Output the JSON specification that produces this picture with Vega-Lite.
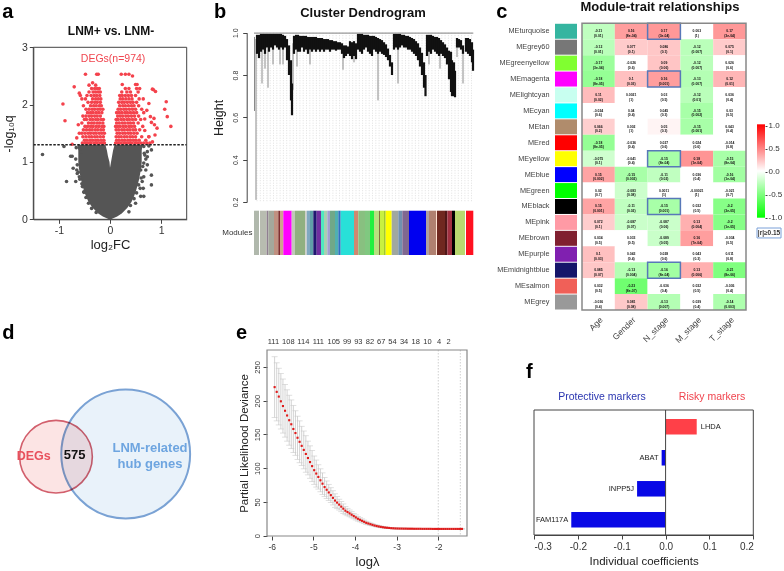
{
"$schema":"https://vega.github.io/schema/vega-lite/v6.json",
"width":784,"height":571,"padding":0,
"autosize":{"type":"fit","contains":"padding"},
"background":"white",
"config":{"view":{"stroke":null},"font":"Liberation Sans","axis":{"minExtent":0,"labelFont":"Liberation Sans","titleFont":"Liberation Sans","grid":false,"titleFontWeight":"normal","labelColor":"#333","titleColor":"#222","domainColor":"#444","tickColor":"#444"}},
"datasets":{
"volcano":[
{"x":-1.32,"y":1.13},{"x":-0.9,"y":1.27},{"x":-0.85,"y":0.66},{"x":-0.77,"y":1.1},{"x":-0.74,"y":1.1},{"x":-0.72,"y":0.89},{"x":-0.65,"y":0.86},{"x":-0.57,"y":1.18},{"x":-0.67,"y":0.66},{"x":-0.6,"y":0.74},{"x":-0.54,"y":0.57},{"x":-0.64,"y":0.8},{"x":-0.51,"y":0.48},{"x":-0.66,"y":1.25},{"x":-0.67,"y":1.05},{"x":-0.64,"y":0.95},{"x":-0.62,"y":0.82},{"x":-0.59,"y":0.7},{"x":-0.55,"y":0.62},{"x":-0.51,"y":0.47},{"x":-0.47,"y":0.38},{"x":-0.42,"y":0.28},{"x":-0.36,"y":0.19},{"x":-0.27,"y":0.12},
{"x":0.81,"y":0.77},{"x":0.81,"y":0.6},{"x":0.66,"y":0.4},{"x":0.6,"y":0.4},{"x":0.65,"y":0.54},{"x":0.59,"y":0.54},{"x":0.63,"y":0.66},{"x":0.73,"y":0.95},{"x":0.66,"y":0.98},{"x":0.7,"y":0.86},{"x":0.6,"y":0.86},{"x":0.73,"y":1.09},{"x":0.81,"y":1.21},{"x":0.66,"y":1.27},{"x":0.76,"y":1.28},{"x":0.73,"y":1.18},{"x":0.67,"y":1.15},{"x":0.66,"y":0.74},{"x":0.5,"y":0.28},{"x":0.37,"y":0.13},{"x":0.68,"y":1.12},{"x":0.7,"y":1.05},{"x":0.64,"y":0.92},{"x":0.61,"y":0.72},{"x":0.56,"y":0.6},{"x":0.52,"y":0.46},{"x":0.47,"y":0.36},{"x":0.4,"y":0.24},
{"x":-0.54,"y":1.33},{"x":-0.48,"y":1.33},{"x":-0.42,"y":1.33},{"x":-0.37,"y":1.33},{"x":-0.31,"y":1.33},{"x":-0.26,"y":1.33},{"x":-0.2,"y":1.33},{"x":-0.15,"y":1.33},{"x":-0.11,"y":1.33},
{"x":-0.5,"y":1.38},{"x":-0.45,"y":1.38},{"x":-0.39,"y":1.38},{"x":-0.34,"y":1.38},{"x":-0.28,"y":1.38},{"x":-0.23,"y":1.38},{"x":-0.17,"y":1.38},{"x":-0.12,"y":1.38},
{"x":-0.53,"y":1.44},{"x":-0.47,"y":1.44},{"x":-0.41,"y":1.44},{"x":-0.36,"y":1.44},{"x":-0.3,"y":1.44},{"x":-0.25,"y":1.44},{"x":-0.19,"y":1.44},{"x":-0.13,"y":1.44},
{"x":-0.55,"y":1.5},{"x":-0.49,"y":1.5},{"x":-0.43,"y":1.5},{"x":-0.38,"y":1.5},{"x":-0.32,"y":1.5},{"x":-0.27,"y":1.5},{"x":-0.21,"y":1.5},{"x":-0.16,"y":1.5},{"x":-0.11,"y":1.5},
{"x":-0.52,"y":1.56},{"x":-0.46,"y":1.56},{"x":-0.4,"y":1.56},{"x":-0.35,"y":1.56},{"x":-0.29,"y":1.56},{"x":-0.24,"y":1.56},{"x":-0.18,"y":1.56},{"x":-0.13,"y":1.56},
{"x":-0.49,"y":1.62},{"x":-0.44,"y":1.62},{"x":-0.38,"y":1.62},{"x":-0.33,"y":1.62},{"x":-0.27,"y":1.62},{"x":-0.22,"y":1.62},{"x":-0.16,"y":1.62},{"x":-0.12,"y":1.62},
{"x":-0.55,"y":1.68},{"x":-0.42,"y":1.68},{"x":-0.36,"y":1.68},{"x":-0.31,"y":1.68},{"x":-0.25,"y":1.68},{"x":-0.2,"y":1.68},{"x":-0.14,"y":1.68},
{"x":-0.5,"y":1.74},{"x":-0.46,"y":1.74},{"x":-0.39,"y":1.74},{"x":-0.34,"y":1.74},{"x":-0.28,"y":1.74},{"x":-0.23,"y":1.74},{"x":-0.17,"y":1.74},{"x":-0.13,"y":1.74},
{"x":-0.53,"y":1.8},{"x":-0.47,"y":1.8},{"x":-0.41,"y":1.8},{"x":-0.36,"y":1.8},{"x":-0.3,"y":1.8},{"x":-0.25,"y":1.8},{"x":-0.19,"y":1.8},
{"x":-0.44,"y":1.86},{"x":-0.38,"y":1.86},{"x":-0.33,"y":1.86},{"x":-0.27,"y":1.86},{"x":-0.22,"y":1.86},{"x":-0.16,"y":1.86},
{"x":-0.47,"y":1.92},{"x":-0.41,"y":1.92},{"x":-0.35,"y":1.92},{"x":-0.3,"y":1.92},{"x":-0.24,"y":1.92},{"x":-0.19,"y":1.92},{"x":-0.14,"y":1.92},
{"x":-0.52,"y":1.98},{"x":-0.38,"y":1.98},{"x":-0.32,"y":1.98},{"x":-0.27,"y":1.98},{"x":-0.21,"y":1.98},{"x":-0.17,"y":1.98},
{"x":-0.43,"y":2.04},{"x":-0.36,"y":2.04},{"x":-0.3,"y":2.04},{"x":-0.25,"y":2.04},{"x":-0.19,"y":2.04},
{"x":-0.55,"y":2.1},{"x":-0.48,"y":2.1},{"x":-0.34,"y":2.1},{"x":-0.28,"y":2.1},{"x":-0.23,"y":2.1},{"x":-0.18,"y":2.1},
{"x":-0.58,"y":2.16},{"x":-0.45,"y":2.16},{"x":-0.37,"y":2.16},{"x":-0.31,"y":2.16},{"x":-0.26,"y":2.16},{"x":-0.2,"y":2.16},
{"x":-0.41,"y":2.22},{"x":-0.33,"y":2.22},{"x":-0.28,"y":2.22},{"x":-0.23,"y":2.22},{"x":-0.19,"y":2.22},
{"x":-0.36,"y":2.28},{"x":-0.3,"y":2.28},{"x":-0.25,"y":2.28},{"x":-0.21,"y":2.28},
{"x":-0.41,"y":2.34},{"x":-0.28,"y":2.34},{"x":-0.34,"y":2.38},{"x":-0.48,"y":2.53},{"x":-0.26,"y":2.53},{"x":-0.23,"y":2.53},{"x":-0.7,"y":2.31},{"x":-0.6,"y":2.2},{"x":-0.92,"y":2.01},{"x":-0.88,"y":1.72},{"x":-0.74,"y":1.31},{"x":-0.62,"y":1.65},{"x":-0.6,"y":1.5},{"x":-0.65,"y":1.42},
{"x":0.11,"y":1.33},{"x":0.16,"y":1.33},{"x":0.21,"y":1.33},{"x":0.27,"y":1.33},{"x":0.32,"y":1.33},{"x":0.38,"y":1.33},{"x":0.43,"y":1.33},{"x":0.49,"y":1.33},{"x":0.54,"y":1.33},{"x":0.6,"y":1.33},{"x":0.66,"y":1.33},{"x":0.72,"y":1.33},{"x":0.78,"y":1.33},
{"x":0.13,"y":1.38},{"x":0.18,"y":1.38},{"x":0.24,"y":1.38},{"x":0.29,"y":1.38},{"x":0.35,"y":1.38},{"x":0.4,"y":1.38},{"x":0.46,"y":1.38},{"x":0.51,"y":1.38},{"x":0.57,"y":1.38},{"x":0.7,"y":1.38},
{"x":0.12,"y":1.44},{"x":0.17,"y":1.44},{"x":0.22,"y":1.44},{"x":0.28,"y":1.44},{"x":0.33,"y":1.44},{"x":0.39,"y":1.44},{"x":0.44,"y":1.44},{"x":0.5,"y":1.44},{"x":0.62,"y":1.44},{"x":0.76,"y":1.44},
{"x":0.14,"y":1.5},{"x":0.19,"y":1.5},{"x":0.25,"y":1.5},{"x":0.3,"y":1.5},{"x":0.36,"y":1.5},{"x":0.41,"y":1.5},{"x":0.47,"y":1.5},{"x":0.53,"y":1.5},
{"x":0.12,"y":1.56},{"x":0.17,"y":1.56},{"x":0.23,"y":1.56},{"x":0.28,"y":1.56},{"x":0.34,"y":1.56},{"x":0.39,"y":1.56},{"x":0.45,"y":1.56},{"x":0.5,"y":1.56},{"x":0.58,"y":1.56},
{"x":0.11,"y":1.62},{"x":0.15,"y":1.62},{"x":0.2,"y":1.62},{"x":0.26,"y":1.62},{"x":0.31,"y":1.62},{"x":0.37,"y":1.62},{"x":0.42,"y":1.62},{"x":0.48,"y":1.62},{"x":0.64,"y":1.62},
{"x":0.13,"y":1.68},{"x":0.18,"y":1.68},{"x":0.24,"y":1.68},{"x":0.29,"y":1.68},{"x":0.35,"y":1.68},{"x":0.4,"y":1.68},{"x":0.46,"y":1.68},{"x":0.55,"y":1.68},
{"x":0.12,"y":1.74},{"x":0.16,"y":1.74},{"x":0.22,"y":1.74},{"x":0.27,"y":1.74},{"x":0.33,"y":1.74},{"x":0.38,"y":1.74},{"x":0.44,"y":1.74},{"x":0.5,"y":1.74},{"x":0.6,"y":1.74},
{"x":0.15,"y":1.8},{"x":0.2,"y":1.8},{"x":0.25,"y":1.8},{"x":0.31,"y":1.8},{"x":0.36,"y":1.8},{"x":0.42,"y":1.8},{"x":0.48,"y":1.8},{"x":0.56,"y":1.8},
{"x":0.13,"y":1.86},{"x":0.18,"y":1.86},{"x":0.23,"y":1.86},{"x":0.29,"y":1.86},{"x":0.34,"y":1.86},{"x":0.4,"y":1.86},{"x":0.46,"y":1.86},{"x":0.52,"y":1.86},{"x":0.66,"y":1.86},
{"x":0.16,"y":1.92},{"x":0.21,"y":1.92},{"x":0.27,"y":1.92},{"x":0.32,"y":1.92},{"x":0.38,"y":1.92},{"x":0.44,"y":1.92},{"x":0.5,"y":1.92},{"x":0.62,"y":1.92},
{"x":0.19,"y":1.98},{"x":0.25,"y":1.98},{"x":0.3,"y":1.98},{"x":0.36,"y":1.98},{"x":0.42,"y":1.98},{"x":0.47,"y":1.98},{"x":0.56,"y":1.98},
{"x":0.17,"y":2.04},{"x":0.23,"y":2.04},{"x":0.28,"y":2.04},{"x":0.34,"y":2.04},{"x":0.4,"y":2.04},{"x":0.45,"y":2.04},{"x":0.52,"y":2.04},
{"x":0.2,"y":2.1},{"x":0.25,"y":2.1},{"x":0.31,"y":2.1},{"x":0.37,"y":2.1},{"x":0.43,"y":2.1},{"x":0.57,"y":2.1},
{"x":0.19,"y":2.16},{"x":0.24,"y":2.16},{"x":0.3,"y":2.16},{"x":0.36,"y":2.16},{"x":0.42,"y":2.16},{"x":0.5,"y":2.16},
{"x":0.23,"y":2.22},{"x":0.33,"y":2.22},{"x":0.4,"y":2.22},{"x":0.55,"y":2.22},
{"x":0.3,"y":2.28},{"x":0.37,"y":2.28},{"x":0.52,"y":2.28},{"x":0.58,"y":2.28},
{"x":0.24,"y":2.35},{"x":0.5,"y":2.35},{"x":0.53,"y":2.35},{"x":0.22,"y":2.53},{"x":0.3,"y":2.53},{"x":0.37,"y":2.53},{"x":0.44,"y":2.5},
{"x":1.1,"y":2.05},{"x":1.07,"y":1.92},{"x":1.12,"y":1.79},{"x":1.19,"y":1.62},{"x":0.83,"y":2.27},{"x":0.89,"y":2.23},{"x":0.85,"y":2.26},{"x":0.76,"y":2.02},{"x":0.92,"y":1.59},{"x":0.79,"y":1.79},{"x":0.86,"y":1.76},{"x":0.81,"y":1.69},{"x":0.87,"y":1.65},{"x":0.88,"y":1.47},{"x":0.76,"y":1.44},{"x":0.83,"y":1.35},{"x":0.68,"y":1.55},{"x":0.72,"y":1.9},{"x":0.65,"y":2.1},{"x":0.68,"y":1.75}
],
"funnel":[
{"s":"L","y":0,"a":-0.02,"b":0},{"s":"L","y":0.05,"a":-0.14,"b":0},{"s":"L","y":0.1,"a":-0.23,"b":0},{"s":"L","y":0.2,"a":-0.34,"b":0},{"s":"L","y":0.3,"a":-0.42,"b":0},{"s":"L","y":0.4,"a":-0.47,"b":0},{"s":"L","y":0.5,"a":-0.51,"b":0},{"s":"L","y":0.6,"a":-0.54,"b":0},{"s":"L","y":0.7,"a":-0.57,"b":0},{"s":"L","y":0.8,"a":-0.59,"b":0},{"s":"L","y":0.9,"a":-0.61,"b":0},{"s":"L","y":1.0,"a":-0.62,"b":-0.01},{"s":"L","y":1.1,"a":-0.62,"b":-0.04},{"s":"L","y":1.2,"a":-0.62,"b":-0.06},{"s":"L","y":1.3,"a":-0.64,"b":-0.09},
{"s":"R","y":0,"a":0,"b":0.02},{"s":"R","y":0.05,"a":0,"b":0.14},{"s":"R","y":0.1,"a":0,"b":0.23},{"s":"R","y":0.2,"a":0,"b":0.34},{"s":"R","y":0.3,"a":0,"b":0.42},{"s":"R","y":0.4,"a":0,"b":0.47},{"s":"R","y":0.5,"a":0,"b":0.51},{"s":"R","y":0.6,"a":0,"b":0.54},{"s":"R","y":0.7,"a":0,"b":0.57},{"s":"R","y":0.8,"a":0,"b":0.59},{"s":"R","y":0.9,"a":0,"b":0.61},{"s":"R","y":1.0,"a":0.02,"b":0.62},{"s":"R","y":1.1,"a":0.04,"b":0.62},{"s":"R","y":1.2,"a":0.06,"b":0.62},{"s":"R","y":1.3,"a":0.09,"b":0.64}
],
"dendro":[
{"p":3,"t":0.99,"b":0.9},{"p":5,"t":0.99,"b":0.88},{"p":7,"t":0.995,"b":0.91},{"p":9,"t":0.995,"b":0.92},{"p":11,"t":0.995,"b":0.9},{"p":13,"t":0.995,"b":0.93},{"p":15,"t":0.995,"b":0.91},{"p":17,"t":0.995,"b":0.93},{"p":19,"t":0.995,"b":0.92},{"p":21,"t":0.995,"b":0.94},{"p":23,"t":0.995,"b":0.93},{"p":25,"t":0.995,"b":0.92},{"p":27,"t":0.995,"b":0.93},{"p":29,"t":0.99,"b":0.92},{"p":31,"t":0.985,"b":0.93},{"p":33,"t":0.97,"b":0.87},{"p":35,"t":0.94,"b":0.8},{"p":37,"t":0.87,"b":0.68},{"p":38,"t":0.76,"b":0.61},
{"p":40,"t":0.985,"b":0.9},{"p":42,"t":0.99,"b":0.92},{"p":44,"t":0.99,"b":0.91},{"p":46,"t":0.985,"b":0.91},{"p":48,"t":0.985,"b":0.93},{"p":50,"t":0.985,"b":0.91},{"p":52,"t":0.985,"b":0.92},{"p":54,"t":0.98,"b":0.9},{"p":56,"t":0.98,"b":0.92},{"p":58,"t":0.98,"b":0.91},{"p":60,"t":0.98,"b":0.92},{"p":62,"t":0.98,"b":0.91},{"p":64,"t":0.975,"b":0.92},{"p":66,"t":0.975,"b":0.91},{"p":68,"t":0.975,"b":0.92},{"p":70,"t":0.97,"b":0.91},{"p":72,"t":0.97,"b":0.92},{"p":74,"t":0.97,"b":0.92},{"p":76,"t":0.965,"b":0.91},{"p":78,"t":0.965,"b":0.92},{"p":80,"t":0.96,"b":0.92},{"p":82,"t":0.96,"b":0.915},{"p":84,"t":0.955,"b":0.92},{"p":86,"t":0.955,"b":0.92},{"p":88,"t":0.95,"b":0.9},{"p":90,"t":0.94,"b":0.88},{"p":92,"t":0.94,"b":0.89},{"p":94,"t":0.935,"b":0.9},{"p":96,"t":0.96,"b":0.89},{"p":98,"t":0.955,"b":0.875},{"p":100,"t":0.96,"b":0.89},{"p":102,"t":0.95,"b":0.875},
{"p":104,"t":0.995,"b":0.92},{"p":106,"t":0.995,"b":0.91},{"p":108,"t":0.995,"b":0.9},{"p":110,"t":0.99,"b":0.92},{"p":112,"t":0.99,"b":0.93},{"p":114,"t":0.99,"b":0.91},{"p":116,"t":0.985,"b":0.9},{"p":118,"t":0.985,"b":0.89},{"p":120,"t":0.985,"b":0.92},{"p":122,"t":0.98,"b":0.91},{"p":124,"t":0.975,"b":0.9},{"p":126,"t":0.97,"b":0.91},{"p":128,"t":0.965,"b":0.9},{"p":130,"t":0.955,"b":0.895},{"p":132,"t":0.945,"b":0.885},{"p":134,"t":0.925,"b":0.87},{"p":136,"t":0.895,"b":0.84},{"p":138,"t":0.86,"b":0.8},
{"p":140,"t":0.995,"b":0.92},{"p":142,"t":0.995,"b":0.93},{"p":144,"t":0.995,"b":0.92},{"p":146,"t":0.995,"b":0.93},{"p":148,"t":0.99,"b":0.94},{"p":150,"t":0.99,"b":0.93},{"p":152,"t":0.985,"b":0.93},{"p":154,"t":0.985,"b":0.92},{"p":156,"t":0.98,"b":0.92},{"p":158,"t":0.975,"b":0.91},{"p":160,"t":0.97,"b":0.9},{"p":162,"t":0.96,"b":0.89},{"p":164,"t":0.95,"b":0.87},{"p":166,"t":0.93,"b":0.84},{"p":168,"t":0.905,"b":0.8},{"p":170,"t":0.86,"b":0.74},{"p":171.5,"t":0.8,"b":0.7},
{"p":173,"t":0.99,"b":0.89},{"p":175,"t":0.99,"b":0.91},{"p":177,"t":0.99,"b":0.9},{"p":179,"t":0.985,"b":0.92},{"p":181,"t":0.98,"b":0.91},{"p":183,"t":0.98,"b":0.9},{"p":185,"t":0.975,"b":0.89},{"p":187,"t":0.965,"b":0.9},{"p":189,"t":0.955,"b":0.89},{"p":191,"t":0.945,"b":0.88},{"p":193,"t":0.93,"b":0.85},{"p":195,"t":0.915,"b":0.78},{"p":197,"t":0.91,"b":0.72},{"p":198,"t":0.87,"b":0.7},{"p":200,"t":0.86,"b":0.7},{"p":201,"t":0.82,"b":0.695},
{"p":203,"t":0.975,"b":0.93},{"p":205,"t":0.97,"b":0.93},{"p":207,"t":0.965,"b":0.92},{"p":209,"t":0.94,"b":0.9},{"p":212,"t":0.975,"b":0.91},{"p":214,"t":0.975,"b":0.9},{"p":216,"t":0.97,"b":0.89},{"p":218,"t":0.955,"b":0.86},{"p":219,"t":0.92,"b":0.82}
],
"spikes":[
{"p":0.5,"t":0.98,"b":0.63},{"p":2,"t":0.97,"b":0.21},{"p":8,"t":0.92,"b":0.76},{"p":11,"t":0.93,"b":0.83},{"p":14,"t":0.93,"b":0.74},{"p":19,"t":0.93,"b":0.85},{"p":26,"t":0.93,"b":0.85},{"p":29,"t":0.93,"b":0.85},{"p":39,"t":0.95,"b":0.73},{"p":43,"t":0.92,"b":0.84},{"p":56,"t":0.92,"b":0.85},{"p":89,"t":0.9,"b":0.825},{"p":100,"t":0.89,"b":0.86},{"p":124,"t":0.9,"b":0.68},{"p":144,"t":0.93,"b":0.76},{"p":175,"t":0.92,"b":0.85},{"p":186,"t":0.9,"b":0.83},{"p":203,"t":0.94,"b":0.885},{"p":209,"t":0.9,"b":0.76}
],
"guides":[{"p":3},{"p":6.3},{"p":9.6},{"p":12.9},{"p":16.2},{"p":19.5},{"p":22.8},{"p":26.1},{"p":29.4},{"p":32.7},{"p":36},{"p":39.3},{"p":42.6},{"p":45.9},{"p":49.2},{"p":52.5},{"p":55.8},{"p":59.1},{"p":62.4},{"p":65.7},{"p":69},{"p":72.3},{"p":75.6},{"p":78.9},{"p":82.2},{"p":85.5},{"p":88.8},{"p":92.1},{"p":95.4},{"p":98.7},{"p":102},{"p":105.3},{"p":108.6},{"p":111.9},{"p":115.2},{"p":118.5},{"p":121.8},{"p":125.1},{"p":128.4},{"p":131.7},{"p":135},{"p":138.3},{"p":141.6},{"p":144.9},{"p":148.2},{"p":151.5},{"p":154.8},{"p":158.1},{"p":161.4},{"p":164.7},{"p":168},{"p":171.3},{"p":174.6},{"p":177.9},{"p":181.2},{"p":184.5},{"p":187.8},{"p":191.1},{"p":194.4},{"p":197.7},{"p":201},{"p":204.3},{"p":207.6},{"p":210.9},{"p":214.2},{"p":217.5}],
"strip":[
{"a":0,"b":5,"c":"#b0b8ac"},{"a":5,"b":6,"c":"#ffffff"},{"a":6,"b":12.7,"c":"#b8bcb0"},{"a":12.7,"b":14.3,"c":"#907f90"},{"a":14.3,"b":20,"c":"#a4a89c"},{"a":20,"b":24.3,"c":"#c09080"},{"a":24.3,"b":26,"c":"#803030"},{"a":26,"b":29.3,"c":"#d0a090"},{"a":29.3,"b":37.7,"c":"#ff00ff"},{"a":37.7,"b":41,"c":"#c0c8b8"},{"a":41,"b":51,"c":"#90b080"},{"a":51,"b":52.7,"c":"#d0d0c8"},{"a":52.7,"b":56,"c":"#80a8c0"},{"a":56,"b":59.3,"c":"#60a0a8"},{"a":59.3,"b":62.7,"c":"#201870"},{"a":62.7,"b":67,"c":"#7030a0"},{"a":67,"b":70,"c":"#50e8c0"},{"a":70,"b":73.3,"c":"#a8d0b0"},{"a":73.3,"b":76,"c":"#a0a0d0"},{"a":76,"b":81,"c":"#70a888"},{"a":81,"b":84.3,"c":"#50b0b0"},{"a":84.3,"b":86.7,"c":"#3070c0"},{"a":86.7,"b":100,"c":"#28e0d8"},{"a":100,"b":104.3,"c":"#d08870"},{"a":104.3,"b":111,"c":"#88c080"},{"a":111,"b":116,"c":"#80c880"},{"a":116,"b":120,"c":"#20f040"},{"a":120,"b":125,"c":"#b8e080"},{"a":125,"b":126,"c":"#807040"},{"a":126,"b":130,"c":"#c8f040"},{"a":130,"b":131.7,"c":"#a0c830"},{"a":131.7,"b":137.7,"c":"#ffff00"},{"a":137.7,"b":144.3,"c":"#a0a8a0"},{"a":144.3,"b":148.3,"c":"#7090b0"},{"a":148.3,"b":155,"c":"#806890"},{"a":155,"b":172,"c":"#0000f0"},{"a":172,"b":175,"c":"#b0a0a0"},{"a":175,"b":182,"c":"#b08070"},{"a":182,"b":183,"c":"#ffe0d0"},{"a":183,"b":191,"c":"#702820"},{"a":191,"b":193.3,"c":"#501818"},{"a":193.3,"b":198,"c":"#a03040"},{"a":198,"b":201,"c":"#000000"},{"a":201,"b":211,"c":"#b8d870"},{"a":211,"b":212,"c":"#ffffff"},{"a":212,"b":219.3,"c":"#ff1020"}
],
"modules":[{"m":"MEturquoise","c":"#35b5a0"},{"m":"MEgrey60","c":"#777777"},{"m":"MEgreenyellow","c":"#80ff30"},{"m":"MEmagenta","c":"#ff00ff"},{"m":"MElightcyan","c":"#c8fff0"},{"m":"MEcyan","c":"#00ffff"},{"m":"MEtan","c":"#b08c6c"},{"m":"MEred","c":"#ff0000"},{"m":"MEyellow","c":"#ffff00"},{"m":"MEblue","c":"#0000ff"},{"m":"MEgreen","c":"#00ff00"},{"m":"MEblack","c":"#000000"},{"m":"MEpink","c":"#ff9aa5"},{"m":"MEbrown","c":"#802030"},{"m":"MEpurple","c":"#8020b0"},{"m":"MEmidnightblue","c":"#15156a"},{"m":"MEsalmon","c":"#f06058"},{"m":"MEgrey","c":"#999999"}],
"cells":[
{"m":"MEturquoise","k":"Age","r":-0.11,"t":"-0.11\n(0.01)"},{"m":"MEturquoise","k":"Gender","r":0.16,"t":"0.16\n(8e-04)"},{"m":"MEturquoise","k":"N_stage","r":0.17,"t":"0.17\n(3e-04)"},{"m":"MEturquoise","k":"M_stage","r":0.003,"t":"0.003\n(1)"},{"m":"MEturquoise","k":"T_stage","r":0.17,"t":"0.17\n(3e-04)"},
{"m":"MEgrey60","k":"Age","r":-0.12,"t":"-0.12\n(0.01)"},{"m":"MEgrey60","k":"Gender","r":0.077,"t":"0.077\n(0.1)"},{"m":"MEgrey60","k":"N_stage","r":0.086,"t":"0.086\n(0.1)"},{"m":"MEgrey60","k":"M_stage","r":-0.12,"t":"-0.12\n(0.007)"},{"m":"MEgrey60","k":"T_stage","r":0.075,"t":"0.075\n(0.1)"},
{"m":"MEgreenyellow","k":"Age","r":-0.17,"t":"-0.17\n(3e-04)"},{"m":"MEgreenyellow","k":"Gender","r":-0.026,"t":"-0.026\n(0.6)"},{"m":"MEgreenyellow","k":"N_stage","r":0.09,"t":"0.09\n(0.06)"},{"m":"MEgreenyellow","k":"M_stage","r":-0.12,"t":"-0.12\n(0.007)"},{"m":"MEgreenyellow","k":"T_stage","r":0.026,"t":"0.026\n(0.6)"},
{"m":"MEmagenta","k":"Age","r":-0.18,"t":"-0.18\n(8e-05)"},{"m":"MEmagenta","k":"Gender","r":0.1,"t":"0.1\n(0.03)"},{"m":"MEmagenta","k":"N_stage","r":0.16,"t":"0.16\n(0.001)"},{"m":"MEmagenta","k":"M_stage","r":-0.13,"t":"-0.13\n(0.007)"},{"m":"MEmagenta","k":"T_stage","r":0.12,"t":"0.12\n(0.01)"},
{"m":"MElightcyan","k":"Age","r":0.11,"t":"0.11\n(0.02)"},{"m":"MElightcyan","k":"Gender","r":0.0021,"t":"0.0021\n(1)"},{"m":"MElightcyan","k":"N_stage","r":0.03,"t":"0.03\n(0.5)"},{"m":"MElightcyan","k":"M_stage","r":-0.12,"t":"-0.12\n(0.01)"},{"m":"MElightcyan","k":"T_stage","r":0.036,"t":"0.036\n(0.4)"},
{"m":"MEcyan","k":"Age","r":-0.024,"t":"-0.024\n(0.6)"},{"m":"MEcyan","k":"Gender","r":0.04,"t":"0.04\n(0.4)"},{"m":"MEcyan","k":"N_stage","r":0.045,"t":"0.045\n(0.3)"},{"m":"MEcyan","k":"M_stage","r":-0.15,"t":"-0.15\n(0.002)"},{"m":"MEcyan","k":"T_stage","r":0.03,"t":"0.03\n(0.5)"},
{"m":"MEtan","k":"Age","r":0.066,"t":"0.066\n(0.2)"},{"m":"MEtan","k":"Gender","r":0.002,"t":"0.002\n(1)"},{"m":"MEtan","k":"N_stage","r":0.05,"t":"0.05\n(0.3)"},{"m":"MEtan","k":"M_stage","r":-0.15,"t":"-0.15\n(0.001)"},{"m":"MEtan","k":"T_stage","r":0.043,"t":"0.043\n(0.4)"},
{"m":"MEred","k":"Age","r":-0.18,"t":"-0.18\n(8e-05)"},{"m":"MEred","k":"Gender","r":-0.036,"t":"-0.036\n(0.4)"},{"m":"MEred","k":"N_stage","r":0.027,"t":"0.027\n(0.6)"},{"m":"MEred","k":"M_stage","r":0.024,"t":"0.024\n(0.6)"},{"m":"MEred","k":"T_stage","r":-0.014,"t":"-0.014\n(0.8)"},
{"m":"MEyellow","k":"Age","r":-0.075,"t":"-0.075\n(0.1)"},{"m":"MEyellow","k":"Gender","r":-0.041,"t":"-0.041\n(0.4)"},{"m":"MEyellow","k":"N_stage","r":-0.15,"t":"-0.15\n(8e-04)"},{"m":"MEyellow","k":"M_stage","r":0.18,"t":"0.18\n(1e-04)"},{"m":"MEyellow","k":"T_stage","r":-0.15,"t":"-0.15\n(8e-04)"},
{"m":"MEblue","k":"Age","r":0.15,"t":"0.15\n(0.002)"},{"m":"MEblue","k":"Gender","r":-0.15,"t":"-0.15\n(0.002)"},{"m":"MEblue","k":"N_stage","r":-0.11,"t":"-0.11\n(0.02)"},{"m":"MEblue","k":"M_stage","r":0.036,"t":"0.036\n(0.4)"},{"m":"MEblue","k":"T_stage","r":-0.16,"t":"-0.16\n(1e-04)"},
{"m":"MEgreen","k":"Age","r":0.02,"t":"0.02\n(0.7)"},{"m":"MEgreen","k":"Gender","r":-0.083,"t":"-0.083\n(0.08)"},{"m":"MEgreen","k":"N_stage","r":0.0011,"t":"0.0011\n(1)"},{"m":"MEgreen","k":"M_stage","r":-0.00021,"t":"-0.00021\n(1)"},{"m":"MEgreen","k":"T_stage","r":-0.021,"t":"-0.021\n(0.7)"},
{"m":"MEblack","k":"Age","r":0.15,"t":"0.15\n(0.001)"},{"m":"MEblack","k":"Gender","r":-0.11,"t":"-0.11\n(0.02)"},{"m":"MEblack","k":"N_stage","r":-0.15,"t":"-0.15\n(0.001)"},{"m":"MEblack","k":"M_stage","r":0.032,"t":"0.032\n(0.5)"},{"m":"MEblack","k":"T_stage","r":-0.2,"t":"-0.2\n(3e-05)"},
{"m":"MEpink","k":"Age","r":0.072,"t":"0.072\n(0.1)"},{"m":"MEpink","k":"Gender","r":-0.087,"t":"-0.087\n(0.07)"},{"m":"MEpink","k":"N_stage","r":-0.087,"t":"-0.087\n(0.06)"},{"m":"MEpink","k":"M_stage","r":0.13,"t":"0.13\n(0.004)"},{"m":"MEpink","k":"T_stage","r":-0.2,"t":"-0.2\n(1e-05)"},
{"m":"MEbrown","k":"Age","r":0.034,"t":"0.034\n(0.5)"},{"m":"MEbrown","k":"Gender","r":0.033,"t":"0.033\n(0.5)"},{"m":"MEbrown","k":"N_stage","r":-0.089,"t":"-0.089\n(0.05)"},{"m":"MEbrown","k":"M_stage","r":0.16,"t":"0.16\n(7e-04)"},{"m":"MEbrown","k":"T_stage","r":-0.034,"t":"-0.034\n(0.5)"},
{"m":"MEpurple","k":"Age","r":0.1,"t":"0.1\n(0.03)"},{"m":"MEpurple","k":"Gender","r":0.043,"t":"0.043\n(0.4)"},{"m":"MEpurple","k":"N_stage","r":0.028,"t":"0.028\n(0.6)"},{"m":"MEpurple","k":"M_stage","r":0.043,"t":"0.043\n(0.3)"},{"m":"MEpurple","k":"T_stage","r":0.011,"t":"0.011\n(0.8)"},
{"m":"MEmidnightblue","k":"Age","r":0.085,"t":"0.085\n(0.07)"},{"m":"MEmidnightblue","k":"Gender","r":-0.13,"t":"-0.13\n(0.004)"},{"m":"MEmidnightblue","k":"N_stage","r":-0.16,"t":"-0.16\n(8e-04)"},{"m":"MEmidnightblue","k":"M_stage","r":0.13,"t":"0.13\n(0.006)"},{"m":"MEmidnightblue","k":"T_stage","r":-0.21,"t":"-0.21\n(8e-06)"},
{"m":"MEsalmon","k":"Age","r":0.032,"t":"0.032\n(0.5)"},{"m":"MEsalmon","k":"Gender","r":-0.23,"t":"-0.23\n(8e-07)"},{"m":"MEsalmon","k":"N_stage","r":-0.036,"t":"-0.036\n(0.4)"},{"m":"MEsalmon","k":"M_stage","r":0.032,"t":"0.032\n(0.5)"},{"m":"MEsalmon","k":"T_stage","r":-0.036,"t":"-0.036\n(0.4)"},
{"m":"MEgrey","k":"Age","r":-0.036,"t":"-0.036\n(0.4)"},{"m":"MEgrey","k":"Gender","r":0.081,"t":"0.081\n(0.08)"},{"m":"MEgrey","k":"N_stage","r":-0.13,"t":"-0.13\n(0.007)"},{"m":"MEgrey","k":"M_stage","r":0.039,"t":"0.039\n(0.4)"},{"m":"MEgrey","k":"T_stage","r":-0.14,"t":"-0.14\n(0.003)"}
],
"lasso":[
{"x":-5.93,"m":220,"lo":175,"hi":265},{"x":-5.88,"m":213,"lo":170,"hi":256},{"x":-5.83,"m":206,"lo":164,"hi":248},{"x":-5.78,"m":199,"lo":158,"hi":240},{"x":-5.73,"m":192,"lo":152,"hi":232},{"x":-5.68,"m":185,"lo":146,"hi":224},{"x":-5.63,"m":178,"lo":140,"hi":216},{"x":-5.58,"m":171,"lo":134,"hi":208},{"x":-5.53,"m":165,"lo":129,"hi":201},{"x":-5.48,"m":158,"lo":123,"hi":193},{"x":-5.43,"m":152,"lo":119,"hi":185},{"x":-5.38,"m":145,"lo":113,"hi":177},{"x":-5.33,"m":139,"lo":108,"hi":170},{"x":-5.28,"m":133,"lo":104,"hi":162},{"x":-5.23,"m":127,"lo":99,"hi":155},{"x":-5.18,"m":121,"lo":94,"hi":148},{"x":-5.13,"m":115,"lo":90,"hi":140},{"x":-5.08,"m":109,"lo":85,"hi":133},{"x":-5.03,"m":103,"lo":80,"hi":126},{"x":-4.98,"m":97,"lo":76,"hi":118},{"x":-4.93,"m":92,"lo":72,"hi":112},{"x":-4.88,"m":87,"lo":69,"hi":105},{"x":-4.83,"m":82,"lo":65,"hi":99},{"x":-4.78,"m":77,"lo":61,"hi":93},{"x":-4.73,"m":72,"lo":58,"hi":86},{"x":-4.68,"m":68,"lo":55,"hi":81},{"x":-4.63,"m":64,"lo":52,"hi":76},{"x":-4.58,"m":60,"lo":49,"hi":71},{"x":-4.53,"m":56,"lo":45.5,"hi":66.5},{"x":-4.48,"m":52,"lo":42,"hi":62},{"x":-4.43,"m":49,"lo":40,"hi":58},{"x":-4.38,"m":46,"lo":38,"hi":54},{"x":-4.33,"m":43,"lo":35.5,"hi":50.5},{"x":-4.28,"m":40,"lo":33,"hi":47},{"x":-4.23,"m":37,"lo":31,"hi":43},{"x":-4.18,"m":35,"lo":29.5,"hi":40.5},{"x":-4.13,"m":33,"lo":28,"hi":38},{"x":-4.08,"m":31,"lo":26.5,"hi":35.5},{"x":-4.03,"m":29,"lo":25,"hi":33},{"x":-3.98,"m":27,"lo":23.3,"hi":30.7},{"x":-3.93,"m":25,"lo":21.7,"hi":28.3},{"x":-3.88,"m":23.5,"lo":20.5,"hi":26.5},{"x":-3.83,"m":22,"lo":19.2,"hi":24.8},{"x":-3.78,"m":20.5,"lo":18,"hi":23},{"x":-3.73,"m":19,"lo":16.7,"hi":21.3},{"x":-3.68,"m":18,"lo":16,"hi":20},{"x":-3.63,"m":17,"lo":15.2,"hi":18.8},{"x":-3.58,"m":16,"lo":14.4,"hi":17.6},{"x":-3.53,"m":15,"lo":13.5,"hi":16.5},{"x":-3.48,"m":14.3,"lo":12.9,"hi":15.7},{"x":-3.43,"m":13.6,"lo":12.3,"hi":14.9},{"x":-3.38,"m":13,"lo":11.8,"hi":14.2},{"x":-3.33,"m":12.5,"lo":11.4,"hi":13.6},{"x":-3.28,"m":12,"lo":11,"hi":13},{"x":-3.23,"m":11.7,"lo":10.8,"hi":12.6},{"x":-3.18,"m":11.4,"lo":10.6,"hi":12.2},{"x":-3.13,"m":11.1,"lo":10.3,"hi":11.9},{"x":-3.08,"m":10.9,"lo":10.2,"hi":11.6},{"x":-3.03,"m":10.7,"lo":10,"hi":11.4},{"x":-2.98,"m":10.6,"lo":10,"hi":11.2},{"x":-2.93,"m":10.5,"lo":9.9,"hi":11.1},{"x":-2.88,"m":10.5,"lo":9.9,"hi":11.1},{"x":-2.83,"m":10.4,"lo":9.8,"hi":11},{"x":-2.78,"m":10.4,"lo":9.8,"hi":11},{"x":-2.73,"m":10.3,"lo":9.8,"hi":10.9},{"x":-2.68,"m":10.3,"lo":9.8,"hi":10.9},{"x":-2.63,"m":10.3,"lo":9.8,"hi":10.9},{"x":-2.58,"m":10.2,"lo":9.7,"hi":10.8},{"x":-2.53,"m":10.2,"lo":9.7,"hi":10.8},{"x":-2.48,"m":10.2,"lo":9.7,"hi":10.8},{"x":-2.43,"m":10.2,"lo":9.7,"hi":10.8},{"x":-2.38,"m":10.1,"lo":9.6,"hi":10.7},{"x":-2.33,"m":10.1,"lo":9.6,"hi":10.7},{"x":-2.28,"m":10.1,"lo":9.6,"hi":10.7},{"x":-2.23,"m":10.1,"lo":9.6,"hi":10.7},{"x":-2.18,"m":10.1,"lo":9.6,"hi":10.7},{"x":-2.13,"m":10,"lo":9.6,"hi":10.6},{"x":-2.08,"m":10,"lo":9.6,"hi":10.6},{"x":-2.03,"m":10,"lo":9.6,"hi":10.6},{"x":-1.98,"m":10,"lo":9.6,"hi":10.6},{"x":-1.93,"m":10,"lo":9.6,"hi":10.6},{"x":-1.88,"m":10,"lo":9.6,"hi":10.6},{"x":-1.83,"m":10,"lo":9.6,"hi":10.6},{"x":-1.78,"m":10,"lo":9.6,"hi":10.6},{"x":-1.73,"m":10,"lo":9.6,"hi":10.6},{"x":-1.68,"m":10,"lo":9.6,"hi":10.6},{"x":-1.63,"m":10,"lo":9.6,"hi":10.6},{"x":-1.58,"m":10,"lo":9.6,"hi":10.6},{"x":-1.53,"m":10,"lo":9.6,"hi":10.6},{"x":-1.48,"m":10,"lo":9.6,"hi":10.6},{"x":-1.43,"m":10,"lo":9.6,"hi":10.6}
],
"genes":[{"g":"LHDA","v":0.071,"r":1,"r0":0.75,"r1":1.25,"z":0,"d":"Risky"},{"g":"ABAT","v":-0.009,"r":2,"r0":1.75,"r1":2.25,"z":0,"d":"Protective"},{"g":"INPP5J","v":-0.065,"r":3,"r0":2.75,"r1":3.25,"z":0,"d":"Protective"},{"g":"FAM117A","v":-0.215,"r":4,"r0":3.75,"r1":4.25,"z":0,"d":"Protective"}]
},
"layer":[
{"layer":[
 {"data":{"name":"funnel"},"mark":{"type":"area","orient":"horizontal","color":"#555555"},"encoding":{"y":{"field":"y","type":"quantitative","scale":{"domain":[0,3],"range":[219.3,47.3],"nice":false,"zero":false},"axis":{"orient":"left","offset":-33.3,"values":[0,1,2,3],"format":"d","title":"-log₁₀q","titleFontSize":12.5,"titlePadding":6,"labelFontSize":10.5,"tickSize":4}},"x":{"field":"a","type":"quantitative","scale":{"domain":[-1.5,1.5],"range":[33.3,186.7],"nice":false,"zero":false},"axis":{"orient":"bottom","offset":-351.7,"values":[-1,0,1],"format":"d","labelExpr":"replace(datum.label,'−','-')","title":"log₂FC","titleFontSize":13,"titlePadding":3,"labelFontSize":10.5,"tickSize":4}},"x2":{"field":"b"},"detail":{"field":"s"}}},
 {"data":{"name":"volcano"},"mark":{"type":"circle","size":13,"opacity":1},"encoding":{"x":{"field":"x","type":"quantitative"},"y":{"field":"y","type":"quantitative"},"color":{"condition":{"test":"datum.y>=1.3","value":"#f4424c"},"value":"#555555"}}},
 {"data":{"values":[{"a":-1.5,"b":1.5,"y":1.3}]},"mark":{"type":"rule","strokeDash":[2.5,1.5],"strokeWidth":1.4,"color":"#222"},"encoding":{"x":{"field":"a","type":"quantitative"},"x2":{"field":"b"},"y":{"field":"y","type":"quantitative"}}},
 {"data":{"values":[{"a":-1.5,"b":1.5,"c":0,"d":3}]},"mark":{"type":"rect","fillOpacity":0,"stroke":"#444","strokeWidth":1},"encoding":{"x":{"field":"a","type":"quantitative"},"x2":{"field":"b"},"y":{"field":"c","type":"quantitative"},"y2":{"field":"d"}}},
 {"data":{"values":[{"x":0.06,"y":2.8,"t":"DEGs(n=974)"}]},"mark":{"type":"text","fontSize":10.5,"color":"#f0454f","font":"Liberation Sans"},"encoding":{"x":{"field":"x","type":"quantitative"},"y":{"field":"y","type":"quantitative"},"text":{"field":"t"}}}
]},
{"layer":[
 {"data":{"name":"guides"},"mark":{"type":"rule","color":"#d8d8d8","strokeDash":[1,1.5],"strokeWidth":0.8},"encoding":{"x":{"field":"p","type":"quantitative","scale":{"domain":[0,219.3],"range":[254,473.3],"nice":false,"zero":false},"axis":null},"y":{"datum":1,"type":"quantitative","scale":{"domain":[0.2,1],"range":[202,32.7],"nice":false,"zero":false},"axis":{"orient":"left","offset":-246.7,"values":[0.2,0.4,0.6,0.8,1],"format":".1f","labelAngle":-90,"labelAlign":"center","labelBaseline":"bottom","labelFontSize":7,"labelPadding":4,"tickSize":4,"title":"Height","titleFontSize":12.5,"titlePadding":6}},"y2":{"datum":0.2}}},
 {"data":{"name":"spikes"},"mark":{"type":"rule","color":"#8a8a8a","strokeWidth":1},"encoding":{"x":{"field":"p","type":"quantitative","axis":null},"y":{"field":"t","type":"quantitative"},"y2":{"field":"b"}}},
 {"data":{"name":"dendro"},"mark":{"type":"rule","color":"#111","strokeWidth":2.2},"encoding":{"x":{"field":"p","type":"quantitative","axis":null},"y":{"field":"t","type":"quantitative"},"y2":{"field":"b"}}},
 {"data":{"values":[{"a":0,"b":219.3,"y":0.998}]},"mark":{"type":"rule","color":"#999","strokeWidth":1.2},"encoding":{"x":{"field":"a","type":"quantitative","axis":null},"x2":{"field":"b"},"y":{"field":"y","type":"quantitative"}}}
]},
{"layer":[
 {"data":{"name":"strip"},"mark":{"type":"rect"},"encoding":{"x":{"field":"a","type":"quantitative","scale":{"domain":[0,219.3],"range":[254,473.3],"nice":false,"zero":false},"axis":null},"x2":{"field":"b"},"y":{"datum":0,"type":"quantitative","scale":{"domain":[0,1],"range":[255,210.7],"nice":false,"zero":false},"axis":null},"y2":{"datum":1},"color":{"field":"c","type":"nominal","scale":null}}},
 {"data":{"values":[{"x":-1.5,"y":0.5,"t":"Modules"}]},"mark":{"type":"text","align":"right","fontSize":8,"color":"#333"},"encoding":{"x":{"field":"x","type":"quantitative","axis":null},"y":{"field":"y","type":"quantitative","axis":null},"text":{"field":"t"}}}
]},
{"layer":[
 {"data":{"name":"modules"},"mark":{"type":"rect"},"encoding":{"x":{"datum":"c","type":"nominal","scale":{"domain":["c"],"range":[555,577],"paddingInner":0,"paddingOuter":0},"axis":null},"y":{"field":"m","type":"nominal","sort":null,"scale":{"domain":["MEturquoise","MEgrey60","MEgreenyellow","MEmagenta","MElightcyan","MEcyan","MEtan","MEred","MEyellow","MEblue","MEgreen","MEblack","MEpink","MEbrown","MEpurple","MEmidnightblue","MEsalmon","MEgrey"],"range":[23.3,310],"paddingInner":0.06,"paddingOuter":0.03},"axis":{"orient":"left","offset":-552,"title":null,"ticks":false,"domain":false,"labelFontSize":7.3,"labelPadding":3,"labelColor":"#444"}},"color":{"field":"c","type":"nominal","scale":null}}}
]},
{"layer":[
 {"data":{"name":"cells"},"mark":{"type":"rect"},"encoding":{"x":{"field":"k","type":"nominal","sort":null,"scale":{"domain":["Age","Gender","N_stage","M_stage","T_stage"],"range":[582,746],"paddingInner":0,"paddingOuter":0},"axis":{"orient":"bottom","offset":-261,"title":null,"ticks":false,"domain":false,"labelAngle":-45,"labelAlign":"right","labelBaseline":"top","labelFontSize":8.5,"labelPadding":5,"labelColor":"#444"}},"y":{"field":"m","type":"nominal","sort":null,"scale":{"domain":["MEturquoise","MEgrey60","MEgreenyellow","MEmagenta","MElightcyan","MEcyan","MEtan","MEred","MEyellow","MEblue","MEgreen","MEblack","MEpink","MEbrown","MEpurple","MEmidnightblue","MEsalmon","MEgrey"],"range":[23.3,310],"paddingInner":0,"paddingOuter":0},"axis":null},"color":{"field":"r","type":"quantitative","legend":null,"scale":{"domain":[-0.4,-0.23,-0.17,-0.11,-0.06,-0.05,0.05,0.06,0.11,0.17,0.4],"range":["#00ff00","#70ff70","#9cff9c","#c0ffc0","#d6ffd6","#ffffff","#ffffff","#ffd2d2","#ffbcbc","#ff9898","#ff3030"]}}}},
 {"data":{"name":"cells"},"transform":[{"filter":"datum.k=='N_stage' && abs(datum.r)>=0.15"}],"mark":{"type":"rect","fillOpacity":0,"stroke":"#5878b8","strokeWidth":1.5},"encoding":{"x":{"field":"k","type":"nominal","sort":null},"y":{"field":"m","type":"nominal","sort":null,"axis":null}}},
 {"data":{"name":"cells"},"mark":{"type":"text","fontSize":3.4,"fontWeight":"bold","color":"#111","lineBreak":"\n","lineHeight":4.6},"encoding":{"x":{"field":"k","type":"nominal","sort":null},"y":{"field":"m","type":"nominal","sort":null,"axis":null},"text":{"field":"t"}}}
]},
{"layer":[
 {"data":{"values":[{"a":0,"b":1,"c":0,"d":1}]},"mark":{"type":"rect","fillOpacity":0,"stroke":"#888","strokeWidth":1.5},"encoding":{"x":{"field":"a","type":"quantitative","scale":{"domain":[0,1],"range":[582,746],"nice":false,"zero":false},"axis":null},"x2":{"field":"b"},"y":{"field":"c","type":"quantitative","scale":{"domain":[0,1],"range":[310,23.3],"nice":false,"zero":false},"axis":null},"y2":{"field":"d"}}}
]},
{"layer":[
 {"data":{"values":[{"a":0,"b":1,"lo":-1,"hi":1.03}]},"mark":{"type":"rect","color":{"gradient":"linear","x1":0,"y1":1,"x2":0,"y2":0,"stops":[{"offset":0,"color":"#00ff00"},{"offset":0.5,"color":"#ffffff"},{"offset":1,"color":"#ff0000"}]}},"encoding":{"x":{"field":"a","type":"quantitative","scale":{"domain":[0,1],"range":[757,765],"nice":false,"zero":false},"axis":null},"x2":{"field":"b"},"y":{"field":"lo","type":"quantitative","scale":{"domain":[-1,1],"range":[217.7,125.7],"nice":false,"zero":false},"axis":{"orient":"right","offset":-19,"values":[-1,-0.5,0,0.5,1],"format":".1f","labelExpr":"replace(datum.label,'−','-')","title":null,"labelFontSize":8,"tickSize":2,"labelPadding":1,"domain":false,"labelColor":"#333"}},"y2":{"field":"hi"}}},
 {"data":{"values":[{"a":0,"b":3,"lo":-1.44,"hi":-1.224}]},"mark":{"type":"rect","fillOpacity":0,"stroke":"#7aa0d8","strokeWidth":1},"encoding":{"x":{"field":"a","type":"quantitative","axis":null},"x2":{"field":"b"},"y":{"field":"lo","type":"quantitative"},"y2":{"field":"hi"}}},
 {"data":{"values":[{"x":1.5,"y":-1.33,"t":"|r|≥0.15"}]},"mark":{"type":"text","fontSize":6.5,"fontWeight":"bold","color":"#333"},"encoding":{"x":{"field":"x","type":"quantitative","axis":null},"y":{"field":"y","type":"quantitative"},"text":{"field":"t"}}}
]},
{"layer":[
 {"data":{"values":[{"a":0,"b":0,"n":0}]},"mark":{"type":"circle","opacity":0},"encoding":{"x":{"field":"a","type":"quantitative","scale":{"domain":[0,240],"range":[0,240],"nice":false,"zero":false},"axis":null},"y":{"field":"b","type":"quantitative","scale":{"domain":[0,240],"range":[540,300],"nice":false,"zero":false},"axis":null},"size":{"field":"n","type":"quantitative","legend":null,"scale":{"domain":[0,3061],"range":[0,16600]}}}},
 {"data":{"values":[{"set":"DEGs","n":974,"x":56,"y":83.3}]},"mark":{"type":"circle","fill":"#fce4e4","opacity":1,"stroke":"#d25f6c","strokeWidth":1.6},"encoding":{"x":{"field":"x","type":"quantitative","axis":null},"y":{"field":"y","type":"quantitative","axis":null},"size":{"field":"n","type":"quantitative","legend":null}}},
 {"data":{"values":[{"set":"LNM-related hub genes","n":3061,"x":125.7,"y":86}]},"mark":{"type":"circle","fill":"#e9f2fa","opacity":1,"stroke":"#7aa2d4","strokeWidth":2,"blend":"multiply"},"encoding":{"x":{"field":"x","type":"quantitative","axis":null},"y":{"field":"y","type":"quantitative","axis":null},"size":{"field":"n","type":"quantitative","legend":null}}},
 {"data":{"values":[{"x":33.7,"y":84,"t":"DEGs"}]},"mark":{"type":"text","fontSize":12.5,"fontWeight":"bold","color":"#e8505c"},"encoding":{"x":{"field":"x","type":"quantitative","axis":null},"y":{"field":"y","type":"quantitative","axis":null},"text":{"field":"t"}}},
 {"data":{"values":[{"x":74.7,"y":85,"t":"575"}]},"mark":{"type":"text","fontSize":13,"fontWeight":"bold","color":"#111"},"encoding":{"x":{"field":"x","type":"quantitative","axis":null},"y":{"field":"y","type":"quantitative","axis":null},"text":{"field":"t"}}},
 {"data":{"values":[{"x":150,"y":92,"t":"LNM-related"},{"x":150,"y":76,"t":"hub genes"}]},"mark":{"type":"text","fontSize":13,"fontWeight":"bold","color":"#6ea5e0"},"encoding":{"x":{"field":"x","type":"quantitative","axis":null},"y":{"field":"y","type":"quantitative","axis":null},"text":{"field":"t"}}}
]},
{"layer":[
 {"data":{"values":[{"a":-2,"t":275,"b":0},{"a":-1.47,"t":275,"b":0}]},"mark":{"type":"rule","color":"#ccc","strokeDash":[1.5,1.5],"strokeWidth":0.9},"encoding":{"x":{"field":"a","type":"quantitative","scale":{"domain":[-6.113,-1.31],"range":[267,467],"nice":false,"zero":false},"axis":{"orient":"bottom","offset":-35,"values":[-6,-5,-4,-3,-2],"format":"d","labelExpr":"replace(datum.label,'−','-')","title":"logλ","titleFontSize":13,"titlePadding":5,"labelFontSize":8.5,"tickSize":4,"domain":false}},"y":{"field":"t","type":"quantitative","scale":{"domain":[-0.5,275],"range":[536,350],"nice":false,"zero":false},"axis":{"orient":"left","offset":-267,"values":[0,50,100,150,200,250],"title":"Partial Likelihood Deviance","titleFontSize":11.5,"titlePadding":4,"labelFontSize":7.5,"labelAngle":-90,"labelAlign":"center","labelBaseline":"bottom","tickSize":4,"domain":false}},"y2":{"field":"b"}}},
 {"data":{"name":"lasso"},"mark":{"type":"rule","color":"#c8c8c8","strokeWidth":0.8},"encoding":{"x":{"field":"x","type":"quantitative"},"y":{"field":"lo","type":"quantitative"},"y2":{"field":"hi"}}},
 {"data":{"name":"lasso"},"mark":{"type":"tick","orient":"horizontal","color":"#c8c8c8","size":6,"thickness":0.8},"encoding":{"x":{"field":"x","type":"quantitative"},"y":{"field":"lo","type":"quantitative"}}},
 {"data":{"name":"lasso"},"mark":{"type":"tick","orient":"horizontal","color":"#c8c8c8","size":6,"thickness":0.8},"encoding":{"x":{"field":"x","type":"quantitative"},"y":{"field":"hi","type":"quantitative"}}},
 {"data":{"name":"lasso"},"mark":{"type":"square","size":4.5,"color":"#e01a1a","opacity":1},"encoding":{"x":{"field":"x","type":"quantitative"},"y":{"field":"m","type":"quantitative"}}},
 {"data":{"values":[{"a":-6.113,"b":-1.31,"c":-0.5,"d":275}]},"mark":{"type":"rect","fillOpacity":0,"stroke":"#888","strokeWidth":1.2},"encoding":{"x":{"field":"a","type":"quantitative"},"x2":{"field":"b"},"y":{"field":"c","type":"quantitative"},"y2":{"field":"d"}}},
 {"data":{"values":[{"x":-5.96,"n":"111"},{"x":-5.6,"n":"108"},{"x":-5.24,"n":"114"},{"x":-4.88,"n":"111"},{"x":-4.51,"n":"105"},{"x":-4.19,"n":"99"},{"x":-3.92,"n":"93"},{"x":-3.64,"n":"82"},{"x":-3.37,"n":"67"},{"x":-3.1,"n":"54"},{"x":-2.82,"n":"34"},{"x":-2.54,"n":"18"},{"x":-2.26,"n":"10"},{"x":-1.98,"n":"4"},{"x":-1.75,"n":"2"}]},"mark":{"type":"text","fontSize":7.5,"color":"#333"},"encoding":{"x":{"field":"x","type":"quantitative"},"y":{"datum":287,"type":"quantitative"},"text":{"field":"n"}}}
]},
{"layer":[
 {"data":{"name":"genes"},"mark":{"type":"rect"},"encoding":{"x":{"field":"v","type":"quantitative","scale":{"domain":[-0.3,0.2],"range":[534,753.3],"nice":false,"zero":false},"axis":{"orient":"bottom","offset":-36,"values":[-0.3,-0.2,-0.1,0,0.1,0.2],"format":".1f","title":"Individual coefficients","titleFontSize":11.5,"titlePadding":4,"labelFontSize":10,"tickSize":4,"labelExpr":"replace(datum.label,'−','-')"}},"x2":{"field":"z"},"y":{"field":"r0","type":"quantitative","scale":{"domain":[0.46,4.49],"range":[410,535],"nice":false,"zero":false},"axis":null},"y2":{"field":"r1"},"color":{"field":"d","type":"nominal","legend":null,"scale":{"domain":["Protective","Risky"],"range":["#0808e6","#ff4048"]}}}},
 {"data":{"values":[{"a":-0.3,"b":0.2,"c":0.46,"d":4.49}]},"mark":{"type":"rect","fillOpacity":0,"stroke":"#444","strokeWidth":1},"encoding":{"x":{"field":"a","type":"quantitative"},"x2":{"field":"b"},"y":{"field":"c","type":"quantitative","axis":null},"y2":{"field":"d"}}},
 {"data":{"values":[{"a":0,"c":0.46,"d":4.49}]},"mark":{"type":"rule","color":"#444","strokeWidth":1},"encoding":{"x":{"field":"a","type":"quantitative"},"y":{"field":"c","type":"quantitative","axis":null},"y2":{"field":"d"}}},
 {"data":{"name":"genes"},"transform":[{"filter":"datum.v<0"}],"mark":{"type":"text","align":"right","dx":-3,"fontSize":7.5,"color":"#222"},"encoding":{"x":{"field":"v","type":"quantitative"},"y":{"field":"r","type":"quantitative","axis":null},"text":{"field":"g"}}},
 {"data":{"name":"genes"},"transform":[{"filter":"datum.v>0"}],"mark":{"type":"text","align":"left","dx":4,"fontSize":7.5,"color":"#222"},"encoding":{"x":{"field":"v","type":"quantitative"},"y":{"field":"r","type":"quantitative","axis":null},"text":{"field":"g"}}},
 {"data":{"values":[{"x":-0.145,"y":0.04,"t":"Protective markers","c":"#2a35b0"},{"x":0.106,"y":0.04,"t":"Risky markers","c":"#f0434d"}]},"mark":{"type":"text","fontSize":10.5},"encoding":{"x":{"field":"x","type":"quantitative"},"y":{"field":"y","type":"quantitative","axis":null},"text":{"field":"t"},"color":{"field":"c","type":"nominal","scale":null}}}
]},
{"layer":[
 {"data":{"values":[{"t":"a","x":0.003,"y":0.021},{"t":"b","x":0.273,"y":0.021},{"t":"c","x":0.633,"y":0.021},{"t":"d","x":0.003,"y":0.583},{"t":"e","x":0.301,"y":0.583},{"t":"f","x":0.671,"y":0.651}]},"mark":{"type":"text","align":"left","fontSize":20,"fontWeight":"bold","color":"#000"},"encoding":{"x":{"field":"x","type":"quantitative","scale":{"domain":[0,1],"range":[0,784],"nice":false,"zero":false},"axis":null},"y":{"field":"y","type":"quantitative","scale":{"domain":[0,1],"range":[0,571],"nice":false,"zero":false},"axis":null},"text":{"field":"t"}}},
 {"data":{"values":[{"t":"LNM+ vs. LNM-","x":0.1416,"y":0.0543,"s":"a"}]},"mark":{"type":"text","fontSize":12,"fontWeight":"bold","color":"#111"},"encoding":{"x":{"field":"x","type":"quantitative","axis":null},"y":{"field":"y","type":"quantitative","axis":null},"text":{"field":"t"}}},
 {"data":{"values":[{"t":"Cluster Dendrogram","x":0.463,"y":0.0228},{"t":"Module-trait relationships","x":0.8418,"y":0.0114}]},"mark":{"type":"text","fontSize":13,"fontWeight":"bold","color":"#111"},"encoding":{"x":{"field":"x","type":"quantitative","axis":null},"y":{"field":"y","type":"quantitative","axis":null},"text":{"field":"t"}}}
]}
],
"resolve":{"scale":{"x":"independent","y":"independent","color":"independent","size":"independent"},"axis":{"x":"independent","y":"independent"}}
}
